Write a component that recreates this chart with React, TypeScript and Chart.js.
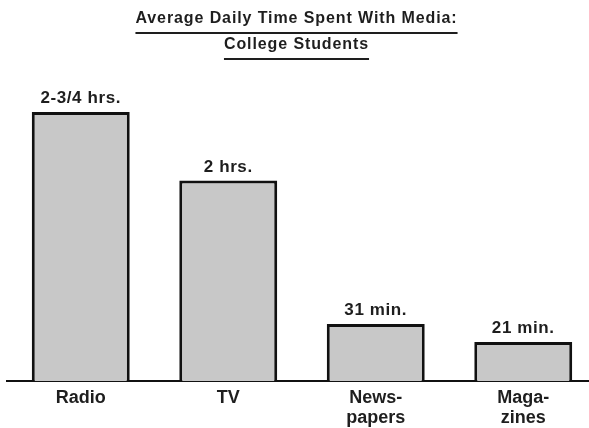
import React, { useEffect, useRef } from 'react';
import { Chart, registerables } from 'chart.js';

Chart.register(...registerables);

const categories: (string | string[])[] = ['Radio', 'TV', ['News-', 'papers'], ['Maga-', 'zines']];
const minutes = [165, 123, 35, 24];
const valueLabels = ['2-3/4 hrs.', '2 hrs.', '31 min.', '21 min.'];
const titleLines = ['Average Daily Time Spent With Media:', 'College Students'];

const FAMILY = '"Liberation Sans", Arial, Helvetica, sans-serif';
const TEXT = '#1e1e1e';
const INK = '#111111';
const FILL = '#c8c8c8';

const annotations = {
  id: 'annotations',
  afterDatasetsDraw(chart: any) {
    const ctx = chart.ctx;
    ctx.save();
    ctx.fillStyle = TEXT;
    ctx.textAlign = 'center';
    ctx.textBaseline = 'alphabetic';
    ctx.font = `bold 17px ${FAMILY}`;
    (ctx as any).letterSpacing = '0.6px';
    const meta = chart.getDatasetMeta(0);
    meta.data.forEach((bar: any, i: number) => {
      ctx.fillText(valueLabels[i], bar.x, bar.y - 9);
    });
    const cx = 296.5;
    const baselines = [23, 48.5];
    const underlines = [33, 59];
    ctx.font = `bold 16px ${FAMILY}`;
    (ctx as any).letterSpacing = '0.9px';
    titleLines.forEach((t, i) => {
      ctx.fillText(t, cx, baselines[i]);
      const w = ctx.measureText(t).width;
      ctx.fillRect(cx - w / 2, underlines[i] - 1, w, 2);
    });
    ctx.restore();
  },
};

export default function App() {
  const ref = useRef<HTMLCanvasElement | null>(null);
  useEffect(() => {
    if (!ref.current) return;
    const chart = new Chart(ref.current, {
      type: 'bar',
      data: {
        labels: categories,
        datasets: [
          {
            data: minutes,
            backgroundColor: FILL,
            borderColor: INK,
            borderWidth: 3,
            borderSkipped: 'start',
            barPercentage: 1,
            categoryPercentage: 0.664,
          },
        ],
      },
      options: {
        animation: false,
        responsive: true,
        maintainAspectRatio: false,
        layout: { padding: { left: 7, right: 0, top: 55, bottom: 0 } },
        plugins: { legend: { display: false }, tooltip: { enabled: false }, title: { display: false } },
        scales: {
          x: {
            grid: { display: false, drawTicks: false },
            border: { display: true, color: INK, width: 2 },
            ticks: {
              color: TEXT,
              padding: 7,
              font: { family: FAMILY, size: 18, weight: 'bold', lineHeight: 1.11 },
            },
          },
          y: { display: false, min: 0, max: 200 },
        },
      },
      plugins: [annotations],
    });
    return () => chart.destroy();
  }, []);
  return (
    <div style={{ position: 'fixed', left: 0, top: 0, width: 589, height: 428, overflow: 'hidden', background: '#fff' }}>
      <div style={{ position: 'relative', width: 597, height: 435 }}>
        <canvas ref={ref} />
      </div>
    </div>
  );
}
